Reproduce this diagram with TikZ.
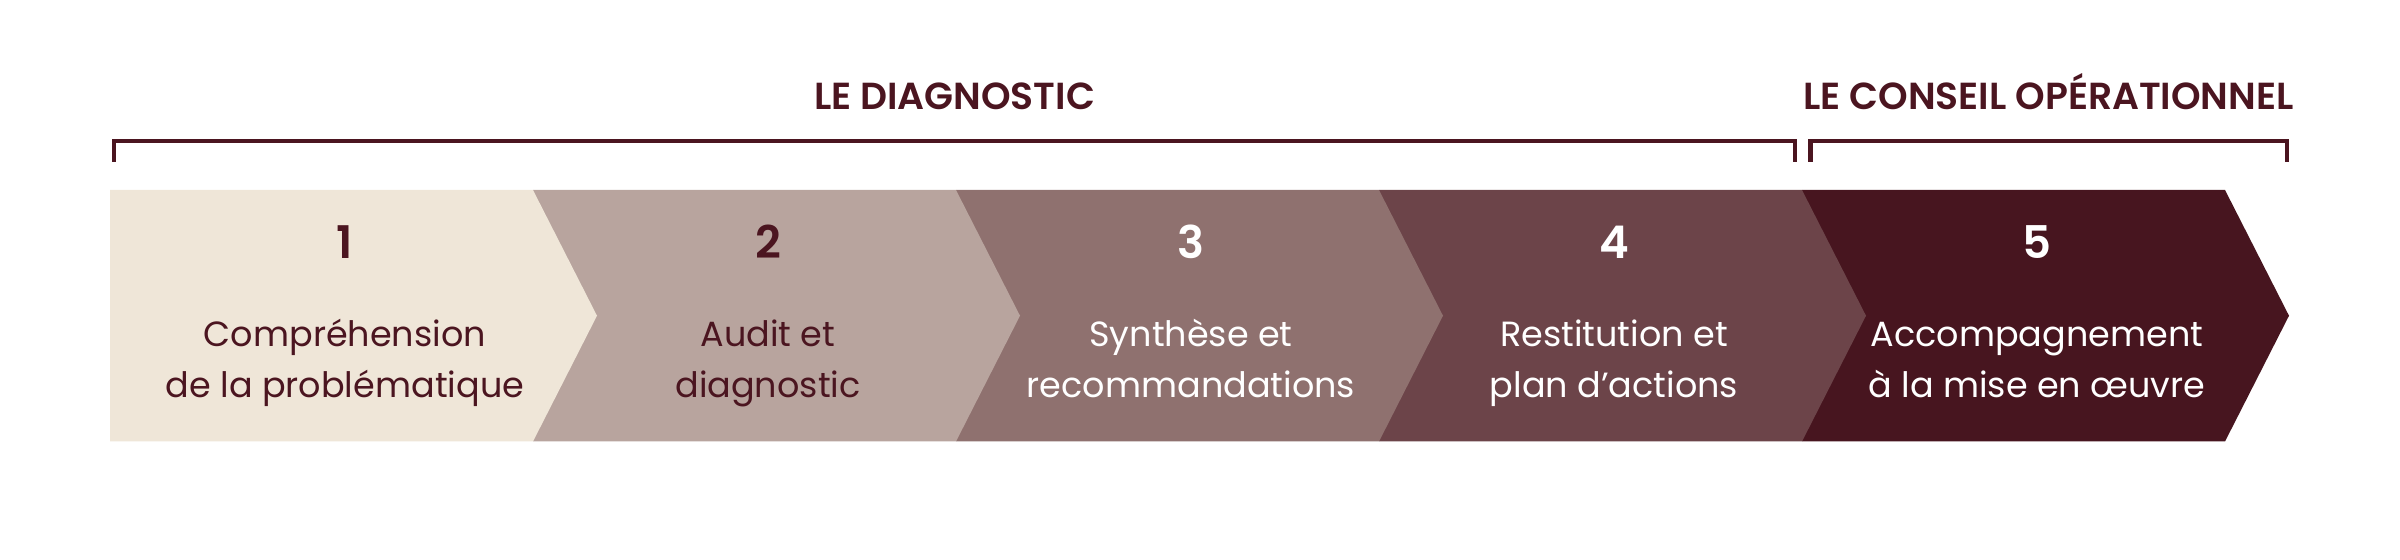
\documentclass[tikz,border=0pt]{standalone}
\usepackage{fontspec}
\setmainfont{Poppins}
\newfontfamily\semifont{Poppins SemiBold}
\definecolor{cA}{HTML}{EFE6D8}
\definecolor{cB}{HTML}{B8A49E}
\definecolor{cC}{HTML}{8F716F}
\definecolor{cD}{HTML}{6C4449}
\definecolor{cE}{HTML}{47151F}
\definecolor{ink}{HTML}{4B1520}
\tikzset{
  numtxt/.style={anchor=base, inner sep=0pt, font=\semifont\fontsize{13.5}{15}\selectfont},
  bodytxt/.style={anchor=center, inner sep=0pt, align=center, font=\fontsize{10.5}{15.2}\selectfont},
  headtxt/.style={anchor=base, inner sep=0pt, text=ink, font=\semifont\fontsize{11.3}{13}\selectfont},
  brace/.style={draw=ink, line width=1.3pt, line cap=rect}
}
\begin{document}
\begin{tikzpicture}[x=0.3pt,y=-0.3pt]
\useasboundingbox (0,0) rectangle (2400,560);
% chevrons, drawn from last to first so that each point overlaps the next one
\fill[cE] (1802,190) -- (2225,190) -- (2289,315.75) -- (2225,441.5) -- (1802,441.5) -- cycle;
\fill[cD] (1379,190) -- (1802,190) -- (1866,315.75) -- (1802,441.5) -- (1379,441.5) -- cycle;
\fill[cC] (956,190) -- (1379,190) -- (1443,315.75) -- (1379,441.5) -- (956,441.5) -- cycle;
\fill[cB] (533,190) -- (956,190) -- (1020,315.75) -- (956,441.5) -- (533,441.5) -- cycle;
\fill[cA] (110,190) -- (533,190) -- (597,315.75) -- (533,441.5) -- (110,441.5) -- cycle;
% numbers
\node[numtxt, text=ink]   (n1) at (345,259)  {1};
\node[numtxt, text=ink]   (n2) at (768,259)  {2};
\node[numtxt, text=white] (n3) at (1191,259) {3};
\node[numtxt, text=white] (n4) at (1614,259) {4};
\node[numtxt, text=white] (n5) at (2037,259) {5};
% descriptions
\node[bodytxt, text=ink]   (t1) at (345,362)  {\strut Compréhension\\\strut de la problématique};
\node[bodytxt, text=ink]   (t2) at (768,362)  {\strut Audit et\\\strut diagnostic};
\node[bodytxt, text=white] (t3) at (1191,362) {\strut Synthèse et\\\strut recommandations};
\node[bodytxt, text=white] (t4) at (1614,362) {\strut Restitution et\\\strut plan d’actions};
\node[bodytxt, text=white] (t5) at (2037,362) {\strut Accompagnement\\\strut à la mise en œuvre};
% brackets
\coordinate (b1a) at (114,160);
\coordinate (b1b) at (1795,160);
\coordinate (b2a) at (1810.5,160);
\coordinate (b2b) at (2287,160);
\draw[brace] (b1a) -- (114,141) -- (1795,141) -- (b1b);
\draw[brace] (b2a) -- (1810.5,141) -- (2287,141) -- (b2b);
% headings
\node[headtxt] (h1) at (954.5,110) {LE DIAGNOSTIC};
\node[headtxt] (h2) at (2048.5,110) {LE CONSEIL OPÉRATIONNEL};
\end{tikzpicture}
\end{document}
